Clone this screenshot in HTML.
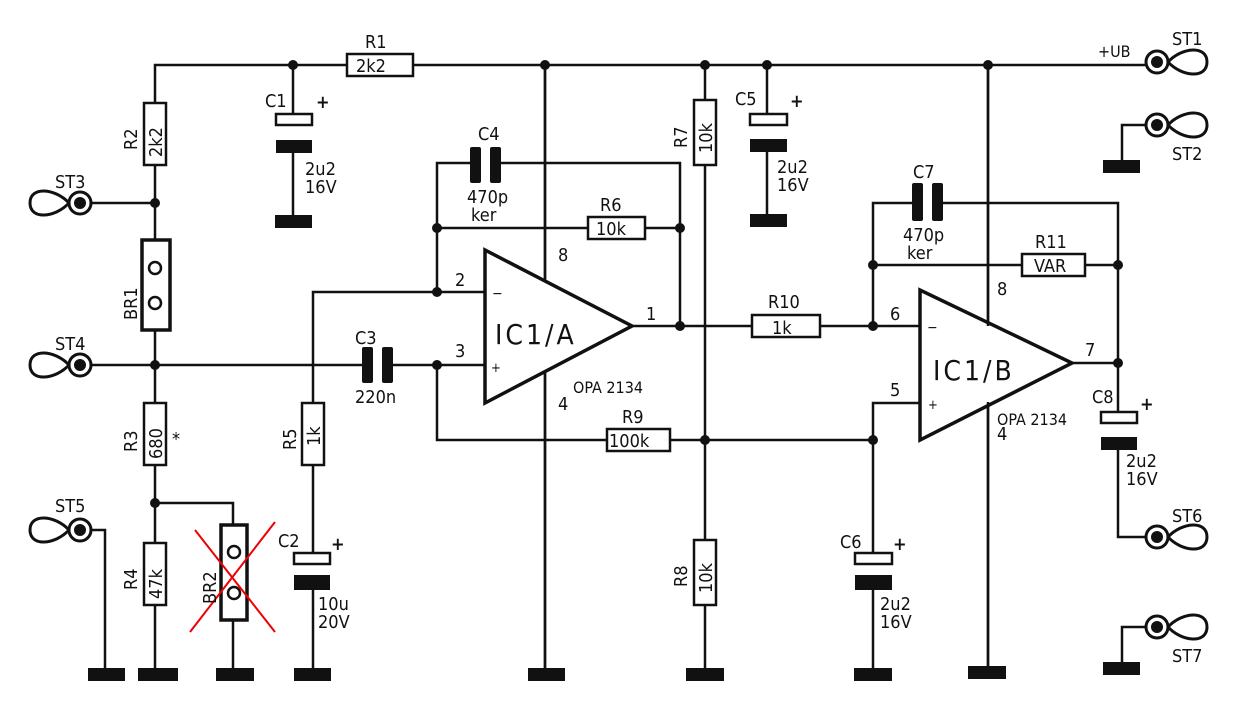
<!DOCTYPE html>
<html><head><meta charset="utf-8"><style>
html,body{margin:0;padding:0;background:#fff;}
svg{display:block;}
text{font-family:"DejaVu Sans Condensed","Liberation Sans",sans-serif;fill:#111;}
</style></head><body>
<svg width="1244" height="724" viewBox="0 0 1244 724" xmlns="http://www.w3.org/2000/svg">
<g stroke="#111" stroke-width="2.5" fill="none">
<polyline points="155,103 155,65 347,65"/>
<line x1="413" y1="65" x2="1145" y2="65"/>
<line x1="155" y1="165" x2="155" y2="240"/>
<line x1="155" y1="330" x2="155" y2="403"/>
<line x1="155" y1="465" x2="155" y2="543"/>
<line x1="155" y1="605" x2="155" y2="670"/>
<line x1="92" y1="203" x2="155" y2="203"/>
<line x1="92" y1="365" x2="362" y2="365"/>
<line x1="392" y1="365" x2="485" y2="365"/>
<polyline points="155,503 233,503 233,525"/>
<line x1="233" y1="620" x2="233" y2="670"/>
<polyline points="92,530 105,530 105,670"/>
<line x1="293" y1="65" x2="293" y2="113"/>
<line x1="293" y1="152" x2="293" y2="218"/>
<polyline points="485,292 313,292 313,403"/>
<line x1="313" y1="465" x2="313" y2="553"/>
<line x1="313" y1="590" x2="313" y2="670"/>
<polyline points="470,163 437,163 437,292"/>
<polyline points="500,163 680,163 680,326"/>
<line x1="437" y1="228" x2="588" y2="228"/>
<line x1="645" y1="228" x2="680" y2="228"/>
<polyline points="437,365 437,440 607,440"/>
<line x1="670" y1="440" x2="873" y2="440"/>
<line x1="545" y1="65" x2="545" y2="670"/>
<line x1="705" y1="65" x2="705" y2="100"/>
<line x1="705" y1="165" x2="705" y2="540"/>
<line x1="705" y1="605" x2="705" y2="670"/>
<line x1="988" y1="65" x2="988" y2="670"/>
<line x1="767" y1="65" x2="767" y2="113"/>
<line x1="767" y1="152" x2="767" y2="218"/>
<line x1="632" y1="326" x2="752" y2="326"/>
<line x1="820" y1="326" x2="920" y2="326"/>
<polyline points="912,203 873,203 873,326"/>
<polyline points="942,203 1118,203 1118,412"/>
<line x1="873" y1="265" x2="1022" y2="265"/>
<line x1="1085" y1="265" x2="1118" y2="265"/>
<polyline points="920,403 873,403 873,553"/>
<line x1="873" y1="590" x2="873" y2="670"/>
<line x1="1072" y1="363" x2="1118" y2="363"/>
<polyline points="1118,450 1118,537 1145,537"/>
<polyline points="1145,125 1122,125 1122,160"/>
<polyline points="1145,627 1122,627 1122,662"/>
</g>
<g stroke="#111" stroke-width="2.5" fill="#fff">
<rect x="347" y="54" width="66" height="22"/>
<rect x="144" y="103" width="22" height="62"/>
<rect x="144" y="403" width="22" height="62"/>
<rect x="144" y="543" width="22" height="62"/>
<rect x="302" y="403" width="22" height="62"/>
<rect x="588" y="217" width="57" height="22"/>
<rect x="607" y="429" width="63" height="22"/>
<rect x="694" y="100" width="22" height="65"/>
<rect x="694" y="540" width="22" height="65"/>
<rect x="752" y="315" width="68" height="22"/>
<rect x="1022" y="254" width="63" height="22"/>
<rect x="276" y="114" width="36" height="11"/>
<rect x="294" y="553" width="36" height="11"/>
<rect x="750" y="114" width="37" height="11"/>
<rect x="855" y="553" width="37" height="11"/>
<rect x="1101" y="412" width="36" height="11"/>
</g>
<g stroke="#111" stroke-width="3.5" fill="#fff">
<rect x="142" y="240" width="28" height="90"/>
<rect x="221" y="525" width="26" height="95"/>
<circle cx="155" cy="268" r="6" stroke-width="2.5"/><circle cx="155" cy="303" r="6" stroke-width="2.5"/>
<circle cx="234" cy="552" r="6" stroke-width="2.5"/><circle cx="234" cy="593" r="6" stroke-width="2.5"/>
</g>
<g fill="#111">
<rect x="276" y="140" width="36" height="13"/>
<rect x="294" y="575" width="36" height="15"/>
<rect x="750" y="139" width="37" height="13"/>
<rect x="855" y="575" width="37" height="15"/>
<rect x="1101" y="437" width="36" height="13"/>
<rect x="470" y="147" width="11" height="36" rx="2"/><rect x="490" y="147" width="11" height="36" rx="2"/>
<rect x="362" y="347" width="11" height="36" rx="2"/><rect x="382" y="347" width="11" height="36" rx="2"/>
<rect x="912" y="183" width="11" height="38" rx="2"/><rect x="932" y="183" width="11" height="38" rx="2"/>
<rect x="275" y="215" width="37" height="13"/>
<rect x="750" y="214" width="37" height="13"/>
<rect x="1103" y="160" width="37" height="13"/>
<rect x="88" y="668" width="37" height="13"/>
<rect x="138" y="668" width="40" height="13"/>
<rect x="216" y="668" width="38" height="13"/>
<rect x="294" y="668" width="37" height="13"/>
<rect x="528" y="668" width="37" height="13"/>
<rect x="686" y="668" width="38" height="13"/>
<rect x="854" y="668" width="38" height="13"/>
<rect x="968" y="666" width="38" height="13"/>
<rect x="1103" y="662" width="37" height="13"/>
<circle cx="293" cy="65" r="5"/><circle cx="545" cy="65" r="5"/><circle cx="705" cy="65" r="5"/>
<circle cx="767" cy="65" r="5"/><circle cx="988" cy="65" r="5"/>
<circle cx="155" cy="203" r="5"/><circle cx="155" cy="365" r="5"/><circle cx="155" cy="503" r="5"/>
<circle cx="437" cy="228" r="5"/><circle cx="437" cy="292" r="5"/><circle cx="437" cy="365" r="5"/>
<circle cx="680" cy="228" r="5"/><circle cx="680" cy="326" r="5"/><circle cx="705" cy="440" r="5"/>
<circle cx="873" cy="265" r="5"/><circle cx="873" cy="326" r="5"/><circle cx="873" cy="440" r="5"/>
<circle cx="1118" cy="265" r="5"/><circle cx="1118" cy="363" r="5"/>
</g>
<g stroke="#111" stroke-width="3.5" fill="#fff">
<polygon points="485,250 485,403 632,326"/>
<polygon points="920,290 920,440 1072,363"/>
</g>
<g stroke="#111" stroke-width="2.5">
<line x1="545" y1="65" x2="545" y2="282"/>
<line x1="545" y1="371" x2="545" y2="670"/>
<line x1="988" y1="65" x2="988" y2="326"/>
<line x1="988" y1="402" x2="988" y2="670"/>
</g>
<g stroke="#111" stroke-width="3" fill="#fff">
<circle cx="80" cy="203" r="11"/><path d="M69,203 C55,188 30,186 30,203 C30,220 55,218 69,203"/>
<circle cx="80" cy="365" r="11"/><path d="M69,365 C55,350 30,348 30,365 C30,382 55,380 69,365"/>
<circle cx="80" cy="530" r="11"/><path d="M69,530 C55,515 30,513 30,530 C30,547 55,545 69,530"/>
<circle cx="1157" cy="62" r="11"/><path d="M1168,62 C1182,47 1207,45 1207,62 C1207,79 1182,77 1168,62"/>
<circle cx="1157" cy="125" r="11"/><path d="M1168,125 C1182,110 1207,108 1207,125 C1207,142 1182,140 1168,125"/>
<circle cx="1157" cy="537" r="11"/><path d="M1168,537 C1182,522 1207,520 1207,537 C1207,554 1182,552 1168,537"/>
<circle cx="1157" cy="627" r="11"/><path d="M1168,627 C1182,612 1207,610 1207,627 C1207,644 1182,642 1168,627"/>
</g>
<g fill="#111">
<circle cx="80" cy="203" r="6"/><circle cx="80" cy="365" r="6"/><circle cx="80" cy="530" r="6"/>
<circle cx="1157" cy="62" r="6"/><circle cx="1157" cy="125" r="6"/><circle cx="1157" cy="537" r="6"/><circle cx="1157" cy="627" r="6"/>
</g>
<g stroke="#e00" stroke-width="2">
<line x1="195" y1="530" x2="275" y2="632"/>
<line x1="275" y1="522" x2="190" y2="632"/>
</g>
<g font-size="18">
<text x="365" y="48">R1</text><text x="356" y="72">2k2</text>
<text x="55" y="188">ST3</text><text x="55" y="350">ST4</text><text x="55" y="512">ST5</text>
<text x="1172" y="45">ST1</text><text x="1172" y="160">ST2</text><text x="1172" y="522">ST6</text><text x="1172" y="662">ST7</text>
<text x="1098" y="57" font-size="16">+UB</text>
<text x="265" y="107">C1</text><text x="316" y="108" font-weight="bold">+</text>
<text x="305" y="175">2u2</text><text x="305" y="193">16V</text>
<text x="735" y="105">C5</text><text x="790" y="107" font-weight="bold">+</text>
<text x="777" y="173">2u2</text><text x="777" y="191">16V</text>
<text x="478" y="140">C4</text><text x="467" y="203">470p</text><text x="471" y="221">ker</text>
<text x="600" y="211">R6</text><text x="596" y="235">10k</text>
<text x="913" y="178">C7</text><text x="903" y="241">470p</text><text x="907" y="259">ker</text>
<text x="1035" y="248">R11</text><text x="1034" y="272">VAR</text>
<text x="355" y="344">C3</text><text x="355" y="403">220n</text>
<text x="768" y="308">R10</text><text x="772" y="334">1k</text>
<text x="622" y="423">R9</text><text x="609" y="447">100k</text>
<text x="278" y="547">C2</text><text x="331" y="550" font-weight="bold">+</text>
<text x="318" y="610">10u</text><text x="318" y="628">20V</text>
<text x="840" y="548">C6</text><text x="893" y="550" font-weight="bold">+</text>
<text x="880" y="610">2u2</text><text x="880" y="628">16V</text>
<text x="1092" y="403">C8</text><text x="1140" y="410" font-weight="bold">+</text>
<text x="1126" y="467">2u2</text><text x="1126" y="485">16V</text>
<text x="172" y="445" font-size="18">*</text>
<text x="455" y="286">2</text><text x="455" y="357">3</text><text x="558" y="261">8</text>
<text x="646" y="320">1</text><text x="558" y="410">4</text>
<text x="890" y="320">6</text><text x="890" y="396">5</text><text x="1085" y="356">7</text>
<text x="997" y="295">8</text><text x="997" y="440">4</text>
<text x="492" y="298" font-size="14">−</text><text x="491" y="372" font-size="13">+</text>
<text x="927" y="332" font-size="14">−</text><text x="928" y="409" font-size="13">+</text>
<text x="495" y="344" font-size="28" letter-spacing="3">IC1/A</text>
<text x="933" y="380" font-size="28" letter-spacing="3">IC1/B</text>
</g>
<g font-family="'Liberation Sans',sans-serif" font-size="16">
<text x="573" y="393">OPA 2134</text><text x="997" y="425">OPA 2134</text>
</g>
<g font-size="18">
<text transform="translate(137,150) rotate(-90)">R2</text><text transform="translate(162,157) rotate(-90)">2k2</text>
<text transform="translate(137,320) rotate(-90)">BR1</text>
<text transform="translate(137,452) rotate(-90)">R3</text><text transform="translate(162,459) rotate(-90)">680</text>
<text transform="translate(137,590) rotate(-90)">R4</text><text transform="translate(162,599) rotate(-90)">47k</text>
<text transform="translate(216,604) rotate(-90)">BR2</text>
<text transform="translate(296,450) rotate(-90)">R5</text><text transform="translate(320,446) rotate(-90)">1k</text>
<text transform="translate(687,148) rotate(-90)">R7</text><text transform="translate(712,153) rotate(-90)">10k</text>
<text transform="translate(687,587) rotate(-90)">R8</text><text transform="translate(712,593) rotate(-90)">10k</text>
</g>
</svg>
</body></html>
